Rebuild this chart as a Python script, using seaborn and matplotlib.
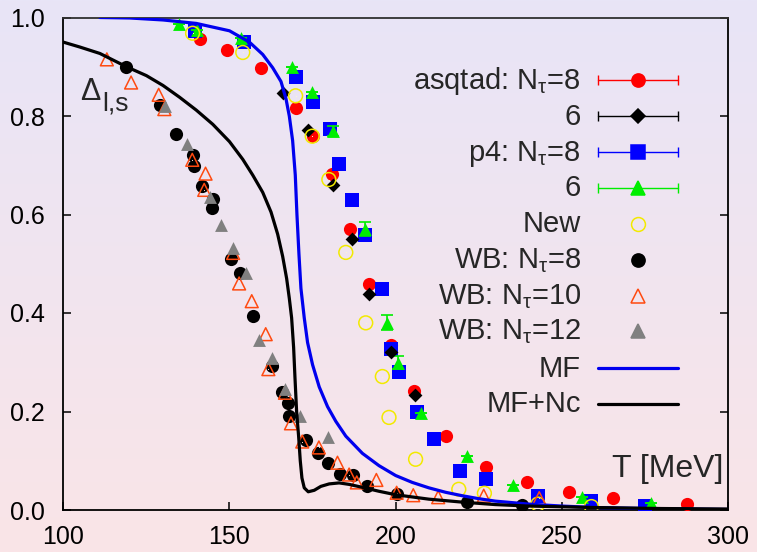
import numpy as np
import pandas as pd
import matplotlib
matplotlib.use("Agg")
import matplotlib.pyplot as plt
import matplotlib.transforms as mtransforms
import seaborn as sns

# ---- lattice data: chiral condensate Delta_{l,s} vs T [MeV] ----
asqtad8_T = [141.1, 149.2, 159.4, 169.9, 175.0, 180.8, 186.4, 192.0, 198.5, 205.6,
             215.1, 227.2, 239.6, 252.2, 265.3, 287.6]
asqtad8_D = [0.956, 0.935, 0.897, 0.816, 0.760, 0.682, 0.571, 0.458, 0.335, 0.242,
             0.151, 0.087, 0.057, 0.037, 0.024, 0.012]

asqtad6_T = [166.2, 173.7, 181.2, 186.8, 192.0, 198.7, 205.7]
asqtad6_D = [0.846, 0.772, 0.660, 0.551, 0.438, 0.321, 0.234]

p4_8_T = [139.5, 154.4, 170.0, 175.1, 180.3, 183.0, 187.0, 190.8, 195.9, 198.5,
          201.0, 206.4, 211.6, 219.4, 227.2, 242.7, 258.7, 274.9]
p4_8_D = [0.973, 0.950, 0.879, 0.828, 0.774, 0.703, 0.630, 0.558, 0.449, 0.326,
          0.281, 0.198, 0.144, 0.079, 0.062, 0.029, 0.019, 0.009]

p4_6_T = [134.7, 140.1, 153.5, 168.8, 174.8, 181.0, 190.8, 197.4, 200.8, 207.6,
          221.4, 235.2, 256.0, 276.7]
p4_6_D = [0.987, 0.975, 0.959, 0.900, 0.848, 0.770, 0.570, 0.380, 0.299, 0.196,
          0.110, 0.051, 0.026, 0.014]
p4_6_err = [0.0, 0.0, 0.0, 0.0, 0.0, 0.010, 0.014, 0.015, 0.013, 0.0,
            0.0, 0.0, 0.0, 0.0]

new_T = [138.9, 154.0, 169.9, 174.9, 179.9, 185.0, 191.0, 196.0, 198.0, 206.0,
         219.0, 226.7, 242.8, 258.9]
new_D = [0.968, 0.929, 0.841, 0.759, 0.671, 0.523, 0.380, 0.271, 0.188, 0.103,
         0.042, 0.034, 0.012, 0.007]

wb8_T = [118.9, 129.1, 134.0, 139.1, 139.2, 141.6, 145.1, 144.7, 150.6, 153.2,
         157.0, 162.7, 165.7, 167.7, 167.9, 173.0, 176.5, 179.5, 183.3, 187.3,
         191.5, 200.5, 221.4, 238.1]
wb8_D = [0.900, 0.822, 0.763, 0.721, 0.699, 0.657, 0.632, 0.613, 0.509, 0.482,
         0.394, 0.292, 0.240, 0.218, 0.190, 0.142, 0.115, 0.095, 0.074, 0.071,
         0.049, 0.032, 0.017, 0.010]

wb10_T = [113.1, 120.4, 128.7, 130.4, 138.8, 142.8, 142.4, 151.1, 152.9, 156.7,
          160.9, 161.7, 166.7, 168.5, 171.9, 176.9, 182.5, 186.0, 188.3, 194.2,
          200.3, 205.3, 212.8, 226.5, 243.2]
wb10_D = [0.915, 0.868, 0.843, 0.814, 0.711, 0.683, 0.650, 0.522, 0.460, 0.424,
          0.357, 0.286, 0.238, 0.176, 0.139, 0.127, 0.096, 0.072, 0.056, 0.061,
          0.035, 0.030, 0.026, 0.029, 0.024]

wb12_T = [130.6, 137.1, 144.1, 147.5, 151.2, 154.9, 159.0, 162.7, 166.7, 171.2, 179.7]
wb12_D = [0.820, 0.743, 0.636, 0.579, 0.531, 0.481, 0.345, 0.308, 0.245, 0.190, 0.148]

# ---- model curves ----
mf_T = [111, 120, 130, 140, 150, 156, 160, 163, 165.5, 167, 168, 169, 169.8,
        170.3, 170.9, 171.5, 172.5, 173.5, 175, 177, 179.5, 182, 185, 190, 195,
        200, 205, 210, 215, 220, 225, 230, 240, 250, 260, 275, 300]
mf_D = [1.0, 0.999, 0.995, 0.988, 0.973, 0.950, 0.925, 0.898, 0.870, 0.835,
        0.800, 0.750, 0.680, 0.600, 0.520, 0.450, 0.390, 0.340, 0.295, 0.250,
        0.210, 0.180, 0.150, 0.115, 0.090, 0.070, 0.056, 0.045, 0.036, 0.029,
        0.023, 0.018, 0.012, 0.008, 0.005, 0.003, 0.001]

mfnc_T = [100, 105, 111, 119, 125, 130, 135, 140, 145, 150, 154, 157, 160, 162.5,
          164.5, 166, 167.2, 168, 168.7, 169.3, 169.7, 170.2, 170.8, 171.3, 171.8,
          172.5, 173.7, 175.5, 177.5, 180, 183, 186, 190, 195, 200, 210, 220, 230,
          240, 260, 280, 300]
mfnc_D = [0.950, 0.940, 0.927, 0.900, 0.882, 0.862, 0.838, 0.812, 0.783, 0.748,
          0.712, 0.680, 0.645, 0.605, 0.560, 0.515, 0.470, 0.430, 0.390, 0.330,
          0.270, 0.200, 0.150, 0.100, 0.065, 0.045, 0.037, 0.040, 0.048, 0.053,
          0.055, 0.052, 0.046, 0.038, 0.031, 0.022, 0.016, 0.011, 0.008, 0.005,
          0.003, 0.002]

x_ticks = [100, 150, 200, 250, 300]
y_ticks = [0.0, 0.2, 0.4, 0.6, 0.8, 1.0]
y_ticklabels = ["0.0", "0.2", "0.4", "0.6", "0.8", "1.0"]

legend_labels = [r"asqtad: N$_\mathrm{\tau}$=8", "6", r"p4: N$_\mathrm{\tau}$=8", "6", "New",
                 r"WB: N$_\mathrm{\tau}$=8", r"WB: N$_\mathrm{\tau}$=10",
                 r"WB: N$_\mathrm{\tau}$=12", "MF", "MF+Nc"]

RED, BLUE, GREEN = "#ff0000", "#0000ff", "#00ee00"
YELLOW, ORANGE, GRAY = "#f2ea00", "#ff4a10", "#808080"

sns.set_theme(style="white")
plt.rcParams["font.family"] = ["Liberation Sans", "DejaVu Sans"]
plt.rcParams["mathtext.fontset"] = "custom"
plt.rcParams["mathtext.rm"] = "Liberation Sans"
plt.rcParams["mathtext.it"] = "Liberation Sans:italic"
plt.rcParams["mathtext.sf"] = "Liberation Sans"

W, H = 757, 552
fig = plt.figure(figsize=(W / 100, H / 100), dpi=100)

# soft vertical gradient behind everything
bg = fig.add_axes([0, 0, 1, 1], zorder=-10)
top_c = np.array([232, 229, 247]) / 255.0
bot_c = np.array([250, 228, 231]) / 255.0
t = np.linspace(0, 1, 256)[:, None, None]
bg.imshow(top_c + (bot_c - top_c) * t, aspect="auto", extent=[0, 1, 0, 1])
bg.axis("off")

L, R, B, T_ = 63.3, 728.0, 510.0, 17.5
ax = fig.add_axes([L / W, (H - B) / H, (R - L) / W, (B - T_) / H])
ax.patch.set_alpha(0)

ms = 90  # marker area in pt^2

sns.scatterplot(x=asqtad8_T, y=asqtad8_D, ax=ax, marker="o", color=RED,
                s=ms, linewidth=0, zorder=3)
sns.scatterplot(x=p4_8_T, y=p4_8_D, ax=ax, marker="s", color=BLUE,
                s=ms * 1.05, linewidth=0, zorder=3)
ax.errorbar(p4_6_T, p4_6_D, yerr=p4_6_err, fmt="none", ecolor=GREEN,
            elinewidth=1.2, capsize=4, capthick=1.2, zorder=3)
sns.scatterplot(x=p4_6_T, y=p4_6_D, ax=ax, marker="^", color=GREEN,
                s=ms * 0.95, linewidth=0, zorder=3)
sns.scatterplot(x=asqtad6_T, y=asqtad6_D, ax=ax, marker="D", color="black",
                s=ms * 0.55, linewidth=0, zorder=3)
sns.scatterplot(x=new_T, y=new_D, ax=ax, marker="o", facecolors="none",
                edgecolor=YELLOW, s=ms * 1.1, linewidth=1.1, zorder=4)
sns.scatterplot(x=new_T, y=new_D, ax=ax, marker=".", color=YELLOW, s=2,
                linewidth=0, zorder=4)
sns.scatterplot(x=wb8_T, y=wb8_D, ax=ax, marker="o", color="black",
                s=ms, linewidth=0, zorder=4)
sns.scatterplot(x=wb10_T, y=wb10_D, ax=ax, marker="^", facecolors="none",
                edgecolor=ORANGE, s=ms * 0.95, linewidth=1.1, zorder=5)
sns.scatterplot(x=wb10_T, y=wb10_D, ax=ax, marker=".", color=ORANGE, s=2,
                linewidth=0, zorder=5)
sns.scatterplot(x=wb12_T, y=wb12_D, ax=ax, marker="^", color=GRAY,
                s=ms * 0.95, linewidth=0, zorder=5)

sns.lineplot(x=mf_T, y=mf_D, ax=ax, sort=False, estimator=None, color="#0000ee",
             linewidth=2.3, zorder=6)
sns.lineplot(x=mfnc_T, y=mfnc_D, ax=ax, sort=False, estimator=None, color="black",
             linewidth=2.3, zorder=6)

ax.set_xlim(100, 300)
ax.set_ylim(0, 1.0)
ax.set_xticks(x_ticks)
ax.set_xticklabels([str(v) for v in x_ticks])
ax.set_yticks(y_ticks)
ax.set_yticklabels(y_ticklabels)
ax.tick_params(axis="both", which="both", direction="in", length=6, width=1.1,
               colors="black", labelsize=18, top=False, right=True,
               left=True, bottom=True)
ax.tick_params(axis="y", pad=13)
ax.tick_params(axis="x", pad=11)
ax.set_xlabel("")
ax.set_ylabel("")
for side in ["left", "right", "bottom"]:
    ax.spines[side].set_color("black")
    ax.spines[side].set_linewidth(1.3)
ax.spines["top"].set_color("#303030")
ax.spines["top"].set_linewidth(1.3)

# axis annotations
ax.text(0.025, 0.8325, "\u0394", transform=ax.transAxes, fontsize=22,
        ha="left", va="baseline")
ax.text(0.058, 0.812, "l,s", transform=ax.transAxes, fontsize=19,
        ha="left", va="baseline")
ax.text(0.9925, 0.068, "T [MeV]", transform=ax.transAxes, fontsize=23,
        ha="right", va="baseline")

# key: label column on the left, sample column on the right
rows_px = [80.3, 116.3, 152.3, 188.0, 224.0, 260.0, 295.7, 331.0, 368.3, 404.0]
rows = [(B - p) / (B - T_) for p in rows_px]
x_text = (581 - L) / (R - L)
x0, x1, xm = (598 - L) / (R - L), (678 - L) / (R - L), (638 - L) / (R - L)
text_off = mtransforms.ScaledTranslation(0, -0.085, fig.dpi_scale_trans)
key_styles = [
    dict(kind="err", color=RED, marker="o", ms=9.5, mfc=RED),
    dict(kind="err", color="black", marker="D", ms=7, mfc="black"),
    dict(kind="err", color=BLUE, marker="s", ms=9.5, mfc=BLUE),
    dict(kind="err", color=GREEN, marker="^", ms=9.5, mfc=GREEN),
    dict(kind="pt", color=YELLOW, marker="o", ms=10, mfc="none"),
    dict(kind="pt", color="black", marker="o", ms=9.5, mfc="black"),
    dict(kind="pt", color=ORANGE, marker="^", ms=9.5, mfc="none"),
    dict(kind="pt", color=GRAY, marker="^", ms=9.5, mfc=GRAY),
    dict(kind="line", color="#0000ee"),
    dict(kind="line", color="black"),
]
for y, lab, st in zip(rows, legend_labels, key_styles):
    ax.text(x_text, y, lab, transform=ax.transAxes + text_off, fontsize=21,
            ha="right", va="baseline")
    if st["kind"] == "err":
        ax.plot([x0, x1], [y, y], transform=ax.transAxes, color=st["color"],
                lw=1.0, clip_on=False, zorder=7)
        ax.plot([x0, x1], [y, y], transform=ax.transAxes, color=st["color"],
                ls="none", marker="|", ms=7, mew=1.0, clip_on=False, zorder=7)
    if st["kind"] in ("err", "pt"):
        ax.plot([xm], [y], transform=ax.transAxes, ls="none", marker=st["marker"],
                ms=st["ms"], mfc=st["mfc"], mec=st["color"], mew=1.1,
                clip_on=False, zorder=8)
    if st["kind"] == "line":
        ax.plot([x0, x1], [y, y], transform=ax.transAxes, color=st["color"],
                lw=2.3, clip_on=False, zorder=7)

fig.savefig("out.png", dpi=100)
